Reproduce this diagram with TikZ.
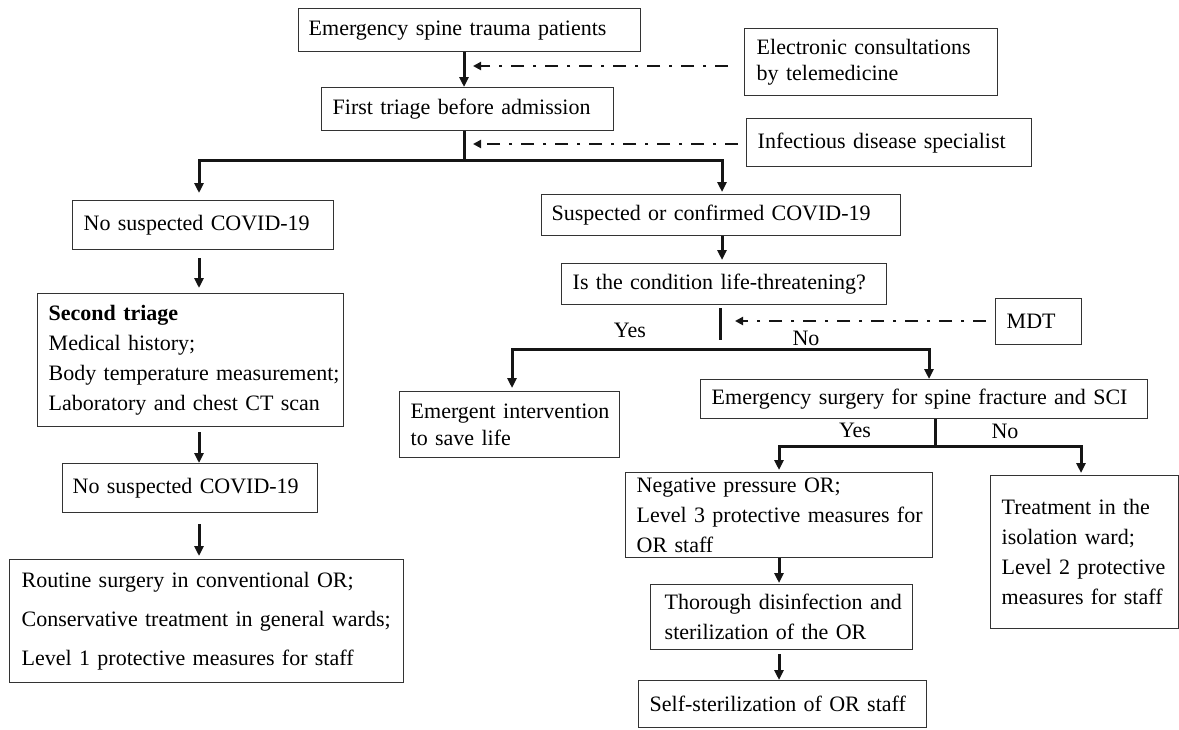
\documentclass[tikz,border=0pt]{standalone}
\usepackage{fontspec}
\setmainfont{Liberation Serif}
\usetikzlibrary{arrows.meta,calc}
\definecolor{boxc}{HTML}{333333}
\definecolor{linec}{HTML}{151515}
\begin{document}
\begin{tikzpicture}[x=1pt,y=-1pt,
  box/.style={draw=boxc, line width=1.4pt, anchor=north west, align=left,
    inner ysep=0pt, font=\fontsize{22}{30}\selectfont, text=black},
  bx/.style n args={4}{minimum width=#1pt, minimum height=#2pt, inner xsep=#3pt, text width=#4pt},
  arr/.style={draw=linec, line width=3pt, line join=miter, -{Triangle[length=10pt,width=9pt]}},
  ln/.style={draw=linec, line width=3pt},
  dd/.style={draw=linec, line width=2.8pt, dash pattern=on 13pt off 9pt on 3pt off 9pt,
    -{Triangle[length=8pt,width=8pt]}},
  lab/.style={font=\fontsize{22}{26}\selectfont, anchor=base, inner sep=0pt}
]
\useasboundingbox (0,0) rectangle (1179,729);

% boxes
\node[box, bx={342}{43}{10}{322}] (n1) at (298,8) {Emergency spine trauma patients};
\node[box, bx={292}{43}{11}{270}] (n2) at (321,87) {First triage before admission};
\node[box, bx={253}{67}{12}{229}, font=\fontsize{22}{26}\selectfont] (tele) at (744,28)
  {\mbox{Electronic consultations}\\by telemedicine};
\node[box, bx={285}{48}{11}{263}] (inf) at (746,118) {Infectious disease specialist};
\node[box, bx={261}{49}{11}{239}] (ns1) at (72,200) {No suspected COVID-19};
\node[box, bx={306}{133}{11}{284}] (st) at (37,293)
  {\textbf{Second triage}\\Medical history;\\\mbox{Body temperature measurement;}\\\mbox{Laboratory and chest CT scan}};
\node[box, bx={255}{49}{10}{235}] (ns2) at (62,463) {No suspected COVID-19};
\node[box, bx={394}{123}{12}{370}, font=\fontsize{22}{39}\selectfont] (rout) at (9,559)
  {\mbox{Routine surgery in conventional OR;}\\\mbox{Conservative treatment in general wards;}\\\mbox{Level 1 protective measures for staff}};
\node[box, bx={359}{41}{10}{339}] (susp) at (541,194) {Suspected or confirmed COVID-19};
\node[box, bx={325}{41}{11}{303}] (life) at (561,263) {\mbox{Is the condition life-threatening?}};
\node[box, bx={86}{46}{11}{64}] (mdt) at (995,298) {MDT};
\node[box, bx={220}{66}{11}{198}, font=\fontsize{22}{27}\selectfont] (emer) at (399,391)
  {\mbox{Emergent intervention}\\to save life};
\node[box, bx={447}{39}{11}{425}] (esurg) at (700,379) {\mbox{Emergency surgery for spine fracture and SCI}};
\node[box, bx={307}{85}{11}{285}] (neg) at (625,472)
  {Negative pressure OR;\\\mbox{Level 3 protective measures for}\\OR staff};
\node[box, bx={188}{153}{11}{166}] (treat) at (990,475)
  {Treatment in the\\isolation ward;\\Level 2 protective\\\mbox{measures for staff}};
\node[box, bx={262}{65}{14}{234}] (thor) at (650,584)
  {\mbox{Thorough disinfection and}\\sterilization of the OR};
\node[box, bx={288}{47}{11}{266}] (self) at (638,680) {\mbox{Self-sterilization of OR staff}};

% junction coordinates
\coordinate (j1) at (464,160);
\coordinate (jl) at (199,160);
\coordinate (jr) at (722,160);
\coordinate (t1) at (473,66);
\coordinate (t2) at (473,144);
\coordinate (t3) at (735,321);
\coordinate (s2) at (720,340);
\coordinate (hm) at (720,349);
\coordinate (hl) at (512,349);
\coordinate (hr) at (929,349);
\coordinate (k) at (935,446);
\coordinate (kl) at (779,446);
\coordinate (kr) at (1081,446);

% top
\draw[arr] (n1.south -| j1) -- (n2.north -| j1);
\draw[ln] (n2.south -| j1) -- (j1);
\draw[arr, shorten >=7pt] (j1) -| (ns1.north -| jl);
\draw[arr, shorten >=2pt] (j1) -| (susp.north -| jr);
\draw[dd, shorten <=16pt] (tele.west |- t1) -- (t1);
\draw[dd, shorten <=8pt] (inf.west |- t2) -- (t2);

% left column
\draw[arr, shorten <=8pt, shorten >=5pt] (ns1.south -| jl) -- (st.north -| jl);
\draw[arr, shorten <=5pt] (st.south -| jl) -- (ns2.north -| jl);
\draw[arr, shorten <=11pt, shorten >=3pt] (ns2.south -| jl) -- (rout.north -| jl);

% right column
\draw[arr, shorten >=3pt] (susp.south -| jr) -- (life.north -| jr);
\draw[ln, shorten <=3pt] (life.south -| s2) -- (s2);
\draw[dd, shorten <=9pt] (mdt.west |- t3) -- (t3);
\draw[arr, shorten >=3pt] (hm) -| (emer.north -| hl);
\draw[arr] (hm) -| (esurg.north -| hr);
\node[lab] (yes1) at (630,337) {Yes};
\node[lab] (no1) at (806,345) {No};

\draw[ln] (esurg.south -| k) -- (k);
\draw[arr, shorten >=2pt] (k) -| (neg.north -| kl);
\draw[arr, shorten >=2pt] (k) -| (treat.north -| kr);
\node[lab] (yes2) at (855,437) {Yes};
\node[lab] (no2) at (1005,438) {No};

\draw[arr, shorten >=1pt] (neg.south -| kl) -- (thor.north -| kl);
\draw[arr, shorten <=4pt] (thor.south -| kl) -- (self.north -| kl);
\end{tikzpicture}
\end{document}
